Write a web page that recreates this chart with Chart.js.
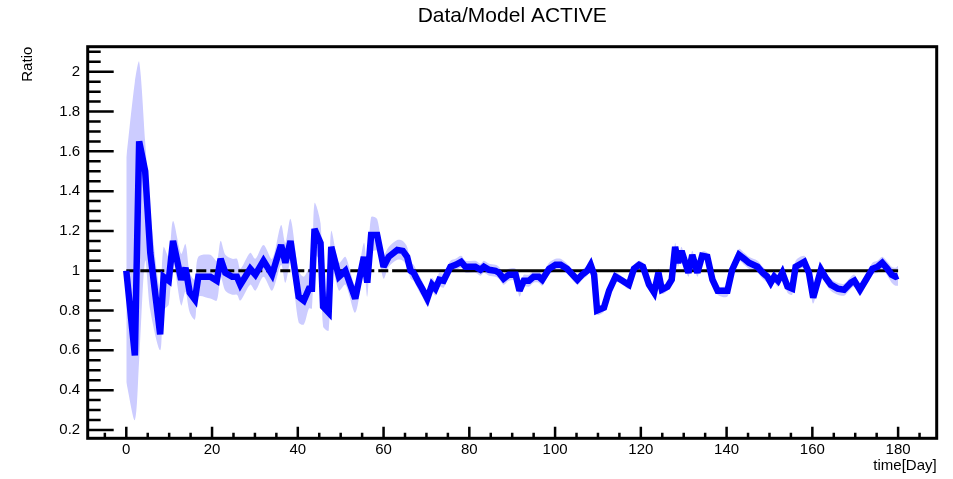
<!DOCTYPE html>
<html>
<head>
<meta charset="utf-8">
<script src="https://cdn.jsdelivr.net/npm/chart.js@4.4.1/dist/chart.umd.min.js"></script>
<style>
  html, body { margin: 0; padding: 0; background: #fff; }
  #wrap { width: 953px; height: 479px; }
</style>
</head>
<body>
<div id="wrap"><canvas id="chart" width="953" height="479"></canvas></div>
<script>
// ratio data/model (x = day, y = ratio, err = band half width)
const days = [
  0, 2, 3, 4.4, 5.6, 7.9, 8.7, 9.9, 10.9, 12.8,
  13.8, 14.8, 16.0, 16.8, 19.6, 21.1, 22.0, 23.1, 24.7, 25.8,
  26.6, 28.9, 30.1, 32.0, 34.0, 36.1, 37.1, 38.3, 40.2, 41.4,
  42.6, 43.3, 43.9, 45.3, 45.9, 47.2, 47.8, 49.6, 51.1, 53.4,
  55.4, 56.2, 57.1, 58.5, 60.0, 61.2, 63.2, 64.5, 65.5, 66.3,
  67.0, 68.2, 69.0, 70.2, 71.3, 72.1, 73.0, 74.0, 75.6, 76.8,
  78.1, 79.1, 81.4, 82.6, 83.4, 84.6, 86.1, 86.9, 88.0, 89.2,
  90.8, 91.7, 92.7, 93.9, 95.0, 96.2, 97.0, 98.6, 100.1, 101.3,
  102.8, 105.2, 106.3, 107.5, 108.3, 109.1, 109.8, 111.4, 112.6, 114.1,
  115.7, 117.2, 118.4, 119.6, 120.5, 121.9, 123.1, 124.1, 124.9, 126.2,
  127.2, 128.0, 128.7, 129.5, 131.1, 132.0, 133.2, 134.3, 135.5, 136.7,
  137.9, 140.2, 141.3, 142.9, 144.1, 145.2, 147.2, 148.4, 149.5, 150.3,
  151.1, 152.0, 153.0, 154.2, 155.3, 156.1, 158.1, 159.2, 160.2, 162.0,
  163.1, 164.3, 165.9, 167.4, 169.0, 169.8, 171.1, 172.5, 174.0, 175.2,
  176.3, 177.5, 178.5, 179.4, 180
];
const ratio = [
  1.00, 0.575, 1.65, 1.50, 1.09, 0.68, 0.97, 0.95, 1.15, 0.955,
  1.015, 0.89, 0.855, 0.97, 0.97, 0.95, 1.06, 0.99, 0.97, 0.97,
  0.93, 1.01, 0.98, 1.05, 0.98, 1.13, 1.04, 1.15, 0.87, 0.85,
  0.91, 0.91, 1.21, 1.14, 0.82, 0.79, 1.12, 0.97, 1.00, 0.86,
  1.07, 0.94, 1.18, 1.18, 1.02, 1.07, 1.105, 1.10, 1.07, 1.00,
  0.99, 0.94, 0.91, 0.86, 0.93, 0.91, 0.955, 0.95, 1.02, 1.03,
  1.045, 1.02, 1.02, 1.005, 1.02, 1.005, 1.00, 0.99, 0.96, 0.98,
  0.98, 0.90, 0.95, 0.95, 0.97, 0.97, 0.955, 1.01, 1.03, 1.03,
  1.01, 0.955, 0.98, 1.00, 1.03, 0.98, 0.80, 0.815, 0.90, 0.97,
  0.95, 0.93, 1.01, 1.03, 1.02, 0.93, 0.89, 0.99, 0.905, 0.92,
  0.955, 1.12, 1.04, 1.10, 0.99, 1.08, 0.99, 1.075, 1.07, 0.955,
  0.90, 0.90, 1.005, 1.08, 1.06, 1.04, 1.02, 0.99, 0.97, 0.94,
  0.97, 0.95, 0.99, 0.92, 0.91, 1.02, 1.045, 0.99, 0.865, 1.005,
  0.965, 0.93, 0.91, 0.905, 0.94, 0.95, 0.905, 0.955, 1.01, 1.02,
  1.04, 1.01, 0.98, 0.97, 0.975
];
// the first days' band is not centred on the line: its edges are read directly
const bandEarlyHigh = [1.57, 1.95, 2.05, 1.65, 1.30, 0.90, 1.12];
const bandEarlyLow = [0.44, 0.25, 0.55, 1.05, 0.80, 0.60, 0.80];
const ratioErr = [
  0, 0, 0, 0, 0, 0, 0, 0.12, 0.10, 0.13,
  0.12, 0.10, 0.10, 0.10, 0.11, 0.10, 0.09, 0.09, 0.09, 0.09,
  0.08, 0.08, 0.08, 0.08, 0.08, 0.10, 0.10, 0.11, 0.13, 0.12,
  0.10, 0.10, 0.13, 0.10, 0.10, 0.09, 0.08, 0.07, 0.07, 0.07,
  0.07, 0.07, 0.09, 0.08, 0.06, 0.05, 0.05, 0.05, 0.05, 0.04,
  0.04, 0.04, 0.04, 0.035, 0.035, 0.035, 0.035, 0.035, 0.03, 0.03,
  0.03, 0.03, 0.03, 0.03, 0.03, 0.03, 0.03, 0.03, 0.03, 0.03,
  0.03, 0.03, 0.03, 0.03, 0.03, 0.03, 0.03, 0.03, 0.03, 0.03,
  0.025, 0.025, 0.025, 0.025, 0.02, 0.02, 0.02, 0.02, 0.02, 0.02,
  0.02, 0.02, 0.02, 0.02, 0.02, 0.02, 0.02, 0.02, 0.02, 0.02,
  0.02, 0.02, 0.02, 0.02, 0.02, 0.02, 0.02, 0.02, 0.02, 0.02,
  0.02, 0.03, 0.03, 0.03, 0.03, 0.03, 0.03, 0.03, 0.03, 0.03,
  0.03, 0.03, 0.03, 0.03, 0.03, 0.03, 0.03, 0.03, 0.03, 0.03,
  0.03, 0.03, 0.03, 0.03, 0.03, 0.03, 0.03, 0.03, 0.03, 0.03,
  0.03, 0.035, 0.04, 0.045, 0.05
];

// reference line at ratio 1 (dashed part, then solid)
const refLevel = 1;
const refDashedDays = [0, 62];
const refSolidDays = [62, 180];

const xTicks = [0, 20, 40, 60, 80, 100, 120, 140, 160, 180];
const yTicks = [0.2, 0.4, 0.6, 0.8, 1, 1.2, 1.4, 1.6, 1.8, 2];
const xMinorStep = 5;
const yMinorStep = 0.05;

const FONT = "'Liberation Sans', Arial, Helvetica, sans-serif";

const pts = (xs, ys) => xs.map((x, i) => ({ x, y: ys[i] }));
const upper = ratio.map((v, i) => (i < bandEarlyHigh.length ? bandEarlyHigh[i] : v + ratioErr[i]));
const lower = ratio.map((v, i) => (i < bandEarlyLow.length ? bandEarlyLow[i] : v - ratioErr[i]));

// ROOT-style frame with inward ticks
const rootFrame = {
  id: 'rootFrame',
  beforeDatasetDraw(chart) {
    chart.ctx.miterLimit = 3; // keeps the spikes short
  },
  afterDatasetsDraw(chart) {
    const { ctx, chartArea: a, scales: { x, y } } = chart;
    ctx.save();
    ctx.strokeStyle = '#000';
    ctx.lineWidth = 2.5;
    ctx.beginPath();
    for (let v = Math.ceil(y.min / yMinorStep) * yMinorStep; v <= y.max + 1e-9; v += yMinorStep) {
      const major = yTicks.some((t) => Math.abs(t - v) < 1e-6);
      const py = y.getPixelForValue(v);
      ctx.moveTo(a.left, py);
      ctx.lineTo(a.left + (major ? 26 : 13), py);
    }
    for (let v = Math.ceil(x.min / xMinorStep) * xMinorStep; v <= x.max + 1e-9; v += xMinorStep) {
      const major = xTicks.includes(v);
      const px = x.getPixelForValue(v);
      ctx.moveTo(px, a.bottom);
      ctx.lineTo(px, a.bottom - (major ? 11.5 : 5.6));
    }
    ctx.stroke();
    ctx.lineWidth = 3;
    ctx.strokeRect(a.left, a.top, a.right - a.left, a.bottom - a.top);
    ctx.restore();
  },
};

new Chart(document.getElementById('chart'), {
  type: 'line',
  data: {
    datasets: [
      { data: pts(days, upper), borderWidth: 0, pointRadius: 0, tension: 0.3, fill: false, order: 4 },
      { data: pts(days, lower), borderWidth: 0, pointRadius: 0, tension: 0.3, fill: '-1',
        backgroundColor: 'rgb(204,204,255)', order: 3 },
      { data: pts(refDashedDays, [refLevel, refLevel]), borderColor: '#000', borderWidth: 3,
        borderDash: [10, 4], pointRadius: 0, fill: false, order: 2 },
      { data: pts(refSolidDays, [refLevel, refLevel]), borderColor: '#000', borderWidth: 3,
        pointRadius: 0, fill: false, order: 2 },
      { data: pts(days, ratio), borderColor: '#0000ff', borderWidth: 6.5, borderJoinStyle: 'miter',
        pointRadius: 0, fill: false, tension: 0, order: 0 },
    ],
  },
  options: {
    responsive: false,
    animation: false,
    devicePixelRatio: 1,
    layout: { padding: { left: 0, right: 16.3, top: 0, bottom: 0 } },
    plugins: {
      legend: { display: false },
      tooltip: { enabled: false },
      title: {
        display: true, text: 'Data/Model ACTIVE', color: '#000', fullSize: false,
        font: { family: FONT, size: 21, weight: 'normal' },
        padding: { top: 3.4, bottom: 18.1 },
      },
    },
    scales: {
      x: {
        type: 'linear', min: -9, max: 189,
        afterBuildTicks: (s) => { s.ticks = xTicks.map((v) => ({ value: v })); },
        afterFit: (s) => { s.height = 40.7; },
        grid: { display: false, drawTicks: false },
        border: { display: false },
        ticks: { color: '#000', padding: 3, maxRotation: 0, font: { family: FONT, size: 15 } },
        title: { display: true, text: 'time[Day]', align: 'end', color: '#000',
          padding: { top: 0, bottom: 4 }, font: { family: FONT, size: 15 } },
      },
      y: {
        type: 'linear', min: 0.158, max: 2.126,
        afterBuildTicks: (s) => { s.ticks = yTicks.map((v) => ({ value: v })); },
        afterFit: (s) => { s.width = 87.7; },
        grid: { display: false, drawTicks: false },
        border: { display: false },
        ticks: { color: '#000', padding: 7.5, font: { family: FONT, size: 15 },
          callback: (v) => String(Math.round(v * 10) / 10) },
        title: { display: true, text: 'Ratio', align: 'end', color: '#000',
          padding: { top: 18.5, bottom: 0 }, font: { family: FONT, size: 15 } },
      },
    },
  },
  plugins: [rootFrame],
});
</script>
</body>
</html>
